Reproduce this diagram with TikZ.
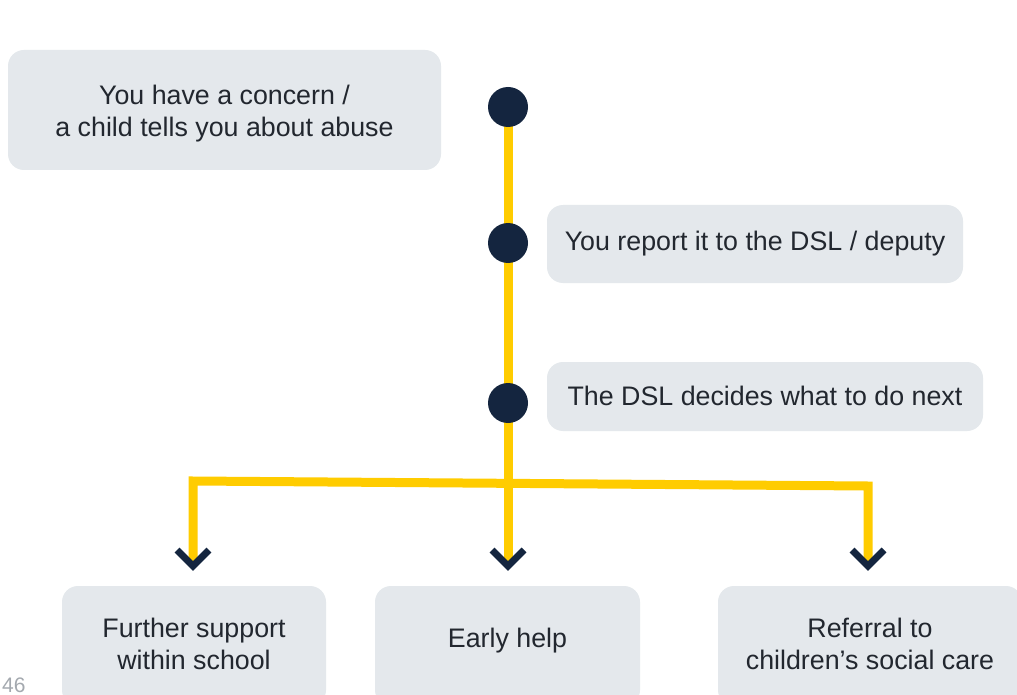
\documentclass[tikz,border=0pt]{standalone}
\usepackage{fontspec}
\setmainfont{Liberation Sans}
\usetikzlibrary{calc}
\definecolor{boxfill}{HTML}{E4E8EC}
\definecolor{yel}{HTML}{FFCC00}
\definecolor{navy}{HTML}{14253F}
\definecolor{txt}{HTML}{22272F}
\definecolor{pg}{HTML}{A4A9AF}
\newcommand\boxlines[2]{\raisebox{#1}[\height][\depth]{\begin{tabular}{@{}c@{}}#2\end{tabular}}}
\begin{document}
\begin{tikzpicture}[x=1pt,y=-1pt,
  box/.style={draw=none,fill=boxfill,rounded corners=16pt,text=txt,
    font=\fontsize{26.8}{32}\selectfont,inner sep=0pt},
  dot/.style={circle,fill=navy,minimum size=40pt,inner sep=0pt},
  yline/.style={draw=yel,line width=9pt,miter limit=10},
  chev/.style={draw=navy,line width=7pt,line cap=butt,line join=miter}]
\useasboundingbox (0,0) rectangle (1017,695);
\clip (0,0) rectangle (1017,695);
\fill[white] (0,0) rectangle (1017,695);
% boxes
\node[box,minimum width=433pt,minimum height=120pt] (b1) at (224.5,110) {\boxlines{-4pt}{You have a concern /\\a child tells you about abuse}};
\node[box,minimum width=416pt,minimum height=78pt] (b2) at (755,244) {\boxlines{0pt}{You report it to the DSL / deputy}};
\node[box,minimum width=436pt,minimum height=69pt] (b3) at (765,396.5) {\boxlines{-3pt}{The DSL decides what to do next}};
\node[box,minimum width=264pt,minimum height=120pt] (bl) at (194,646) {\boxlines{-1pt}{Further support\\within school}};
\node[box,minimum width=265pt,minimum height=120pt] (bm) at (507.5,646) {\boxlines{5pt}{Early help}};
\node[box,minimum width=304pt,minimum height=120pt] (br) at (870,646) {\boxlines{-1pt}{Referral to\\children’s social care}};
% tips and corners
\coordinate (d1c) at (508,107);
\coordinate (d2c) at (508,243);
\coordinate (d3c) at (508,403);
\coordinate (tl) at (193,566);
\coordinate (tm) at (508,566);
\coordinate (tr) at (868,566);
\coordinate (cl) at (193,481);
\coordinate (cr) at (868,486);
% yellow lines
\path[yline] (d1c) -- (d2c);
\path[yline] (d2c) -- (d3c);
\path[yline] (d3c) -- (tm);
\path[yline] (tl) -- (cl) -- (cr) -- (tr);
% dots
\node[dot] (d1) at (d1c) {};
\node[dot] (d2) at (d2c) {};
\node[dot] (d3) at (d3c) {};
% chevrons
\foreach \t in {tl,tm,tr}{
  \draw[chev] ($(\t)+(-16,-16)$) -- (\t) -- ($(\t)+(16,-16)$);
}
% page number
\node[text=pg,font=\fontsize{21}{24}\selectfont,anchor=base west,inner sep=0pt] (pn) at (2,692) {46};
\end{tikzpicture}
\end{document}
